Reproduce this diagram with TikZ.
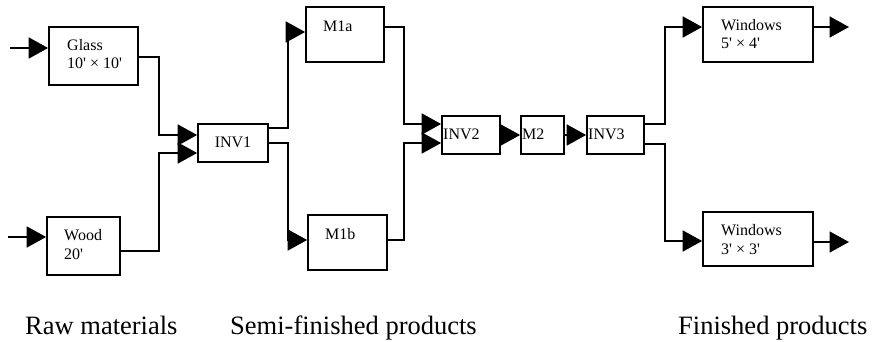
\documentclass[tikz,border=0pt]{standalone}
\usepackage{fontspec}
\newfontfamily\tnr{Liberation Serif}
\usetikzlibrary{arrows.meta}
\tikzset{
  box/.style={draw, line width=1.7pt, inner sep=0pt, rectangle},
  conn/.style={line width=1.7pt, -{Triangle[length=19.5pt,width=21pt]}},
  btxt/.style={font=\tnr\fontsize{16}{18}\selectfont, inner sep=0pt, anchor=base west},
  lbl/.style={font=\tnr\fontsize{26.5}{30}\selectfont, inner sep=0pt, anchor=base west}
}
\begin{document}
\begin{tikzpicture}[x=1pt,y=-1pt]
\useasboundingbox (0,0) rectangle (872,342);
% boxes
\node[box, minimum width=89pt, minimum height=58pt] (glass) at (93.5,56) {};
\node[box, minimum width=73pt, minimum height=58pt] (wood) at (83.5,246) {};
\node[box, minimum width=70pt, minimum height=38pt] (inv1) at (233,143) {};
\node[box, minimum width=78pt, minimum height=55pt] (m1a) at (345,34.5) {};
\node[box, minimum width=79pt, minimum height=55pt] (m1b) at (347.5,242.5) {};
\node[box, minimum width=58pt, minimum height=38pt] (inv2) at (471,135) {};
\node[box, minimum width=43pt, minimum height=38pt] (m2) at (542.5,135) {};
\node[box, minimum width=57pt, minimum height=38pt] (inv3) at (615.5,135) {};
\node[box, minimum width=110pt, minimum height=55pt] (w1) at (758,34.5) {};
\node[box, minimum width=110pt, minimum height=54pt] (w2) at (758,239) {};
% texts
\node[btxt] (tglass1) at (67,50.7) {Glass};
\node[btxt] (tglass2) at (67,69) {10' × 10'};
\node[btxt] (twood1) at (64,240.7) {Wood};
\node[btxt] (twood2) at (64,259) {20'};
\node[btxt, anchor=base] (tinv1) at (233,147.7) {INV1};
\node[btxt] (tm1a) at (323,31.7) {M1a};
\node[btxt] (tm1b) at (325,239) {M1b};
\node[btxt] (tinv2) at (443,139.5) {INV2};
\node[btxt] (tm2) at (522,139.5) {M2};
\node[btxt] (tinv3) at (588,139.5) {INV3};
\node[btxt] (tw1a) at (721,31) {Windows};
\node[btxt] (tw1b) at (721,49) {5' × 4'};
\node[btxt] (tw2a) at (721,235) {Windows};
\node[btxt] (tw2b) at (721,254) {3' × 3'};
\node[lbl] (lraw) at (25,334) {Raw materials};
\node[lbl] (lsemi) at (230,334) {Semi-finished products};
\node[lbl] (lfin) at (678,334) {Finished products};
% free ends
\coordinate (gin) at (10,48);
\coordinate (win) at (8,237);
\coordinate (w1o) at (849,27);
\coordinate (w2o) at (849,242);
% connectors
\draw[conn] (gin) -- (gin -| glass.west);
\draw[conn] (win) -- (win -| wood.west);
\draw[conn] ([yshift=-1pt]glass.east) -| (159,135) -- ([yshift=8pt]inv1.west);
\draw[conn] ([yshift=-5pt]wood.east) -| (159,153) -- ([yshift=-10pt]inv1.west);
\draw[conn] ([yshift=15pt]inv1.east) -| (288,32) -- ([yshift=2.5pt]m1a.west);
\draw[conn] (inv1.east) -| (288,240) -- ([yshift=2.5pt]m1b.west);
\draw[conn] ([yshift=7.5pt]m1a.east) -| (404,124) -- ([yshift=11pt]inv2.west);
\draw[conn] ([yshift=2.5pt]m1b.east) -| (404,143) -- ([yshift=-8pt]inv2.west);
\draw[conn] (inv2.east) -- (m2.west);
\draw[conn] (m2.east) -- (inv3.west);
\draw[conn] ([yshift=11pt]inv3.east) -| (665,27) -- ([yshift=7.5pt]w1.west);
\draw[conn] ([yshift=-9pt]inv3.east) -| (665,241) -- ([yshift=-2pt]w2.west);
\draw[conn] ([yshift=7.5pt]w1.east) -- (w1o);
\draw[conn] ([yshift=-3pt]w2.east) -- (w2o);
\end{tikzpicture}
\end{document}
